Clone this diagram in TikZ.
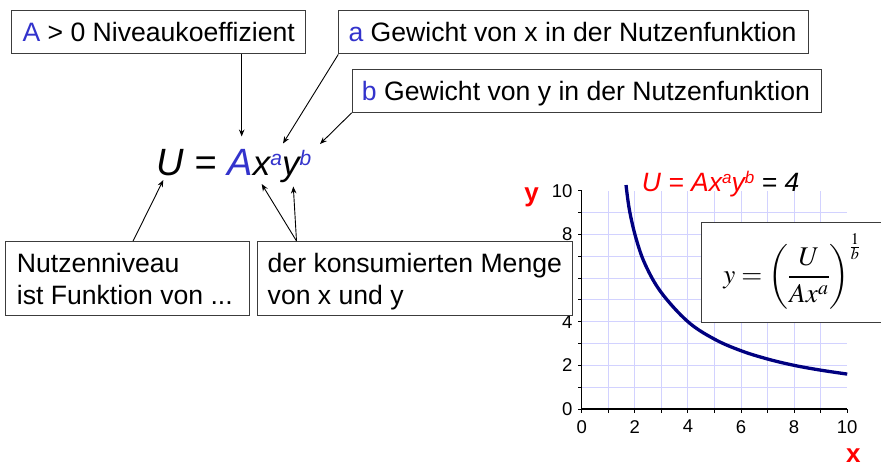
\documentclass[tikz,border=0pt]{standalone}
\usepackage[no-math]{fontspec}
\usepackage{mathptmx}
\setmainfont{Liberation Sans}
\usetikzlibrary{arrows.meta,calc}
\definecolor{ublue}{RGB}{51,51,204}
\definecolor{gridc}{RGB}{210,210,255}
\definecolor{curvec}{RGB}{0,0,128}
\definecolor{boxc}{RGB}{60,60,60}
\newcommand\fsz[1]{\fontsize{#1}{#1}\selectfont}
\newcommand\bsup[1]{\raisebox{10.5pt}{\fsz{21}\color{ublue}#1}}
\newcommand\tsup[1]{\raisebox{8pt}{\fsz{17}#1}}
\tikzset{
  box/.style={draw=boxc, line width=1.1pt, fill=white, inner sep=0pt, anchor=north west},
  btext/.style={font=\fsz{26.6}, inner sep=0pt, anchor=base west},
  arr/.style={-{Stealth[length=7pt,width=5.5pt]}, line width=0.9pt},
  gridline/.style={gridc, line width=1pt},
  ticklab/.style={font=\fsz{18.5}, inner sep=0pt},
}
\begin{document}
\begin{tikzpicture}[x=1pt,y=-1pt]
\useasboundingbox (0,0) rectangle (881,467);
\fill[white] (0,0) rectangle (881,467);

% ---------- graph ----------
\begin{scope}[shift={(581.7,409)}, x=26.55pt, y=21.83pt]
  \foreach \i in {1,...,9} {
    \draw[gridline] (\i,0) -- (\i,10);
    \draw[gridline] (0,\i) -- (10,\i);
  }
  \draw[line width=1.3pt] (0,10) -- (0,0) -- (10,0);
  \foreach \i in {0,...,10} {
    \draw[line width=1pt] (0,\i) -- ++(-3.5pt,0);
    \draw[line width=1pt] (\i,0) -- ++(0,-3.5pt);
  }
  \foreach \i in {0,2,4,6,8,10} {
    \node[ticklab, anchor=east, xshift=-9pt] (yl\i) at (0,\i) {\i};
    \node[ticklab, anchor=north, yshift=-11pt] (xl\i) at (\i,0) {\i};
  }
  \draw[curvec, line width=3.3pt] plot[smooth, tension=0.6] coordinates {
    (1.67,10.26) (1.8,9.1) (2.05,7.8) (2.4,6.6) (3,5.33) (4,4) (5,3.2)
    (6,2.67) (7,2.29) (8,2) (9,1.78) (10,1.6)};
\end{scope}
\node[inner sep=0pt, anchor=base, font=\bfseries\fsz{26}, text=red] (ylab) at (531.7,201.6) {y};
\node[inner sep=0pt, anchor=base, font=\bfseries\fsz{26}, text=red] (xlab) at (853.3,462) {x};
\node[inner sep=0pt, anchor=base west, font=\itshape\fsz{26.5}] (gt) at (641.7,191.7)
  {\color{red}U = Ax\tsup{a}y\tsup{b}\color{black}\ = 4};

% formula box
\node[box, minimum width=200pt, minimum height=100pt] (fb) at (700.7,221.7) {};
\node[inner sep=0pt, font=\fsz{27}] (ff) at (792,271.5)
  {$\displaystyle y=\left(\frac{U}{Ax^{a}}\right)^{\frac{1}{b}}$};

% ---------- boxes ----------
\node[box, minimum width=294.3pt, minimum height=43.3pt] (b1) at (10.7,10) {};
\node[btext] (t1) at (22.3,41.7) {{\color{ublue}A} > 0 Niveaukoeffizient};
\node[box, minimum width=469.4pt, minimum height=43.3pt] (b2) at (338.3,10) {};
\node[btext] (t2) at (348.3,41.7) {{\color{ublue}a} Gewicht von x in der Nutzenfunktion};
\node[box, minimum width=469.3pt, minimum height=42.4pt] (b3) at (351.7,69.3) {};
\node[btext] (t3) at (361.7,100.5) {{\color{ublue}b} Gewicht von y in der Nutzenfunktion};
\node[box, minimum width=244.3pt, minimum height=73.5pt] (b4) at (5,241) {};
\node[btext] (t4a) at (16.7,272.3) {Nutzenniveau};
\node[btext] (t4b) at (16.7,304.3) {ist Funktion von ...};
\node[box, minimum width=315pt, minimum height=73.5pt] (b5) at (256.5,241) {};
\node[btext] (t5a) at (267.5,272.3) {der konsumierten Menge};
\node[btext] (t5b) at (267.5,304.3) {von x und y};

% ---------- main formula ----------
\node[inner sep=0pt, anchor=base west, font=\itshape] (uf) at (156.7,175.7)
  {\fsz{38}U = {\color{ublue}A}\fsz{35}x\bsup{a}y\bsup{b}};

% ---------- arrows ----------
\coordinate (pA) at (241.7,136.5);
\coordinate (pa) at (283,143.5);
\coordinate (pb) at (320,144);
\coordinate (pU) at (163.3,180);
\coordinate (px) at (261.7,184);
\coordinate (py) at (293.3,186.5);
\draw[arr] (b1.south -| pA) -- (pA);
\draw[arr] (b2.south west) -- (pa);
\draw[arr] (b3.south west) -- (pb);
\draw[arr] ($(b4.north west)+(128.1,0)$) -- (pU);
\draw[arr] ($(b5.north west)+(40,0)$) -- (px);
\draw[arr] ($(b5.north west)+(40,0)$) -- (py);
\end{tikzpicture}
\end{document}
